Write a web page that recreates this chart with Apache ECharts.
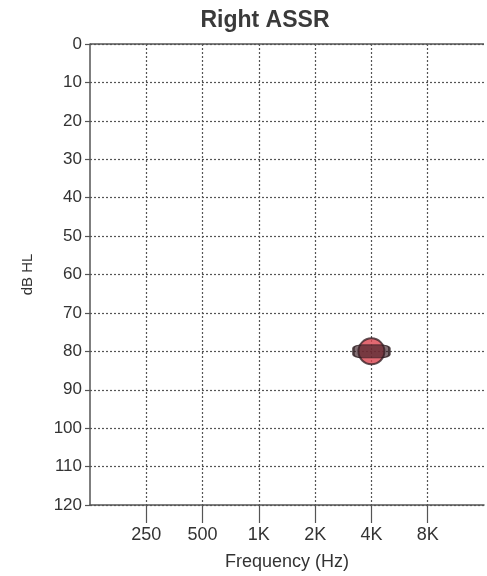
<!DOCTYPE html>
<html>
<head>
<meta charset="utf-8">
<script src="https://cdn.jsdelivr.net/npm/echarts@6/dist/echarts.min.js"></script>
<style>
  html, body { margin: 0; padding: 0; background: #fff; }
  #chart { width: 487px; height: 576px; }
</style>
</head>
<body>
<div id="chart"></div>
<script>
// octave positions; blank entries are the plot edges
const freqLabels = ['', '250', '500', '1K', '2K', '4K', '8K', ''];
const dbTicks = [0, 10, 20, 30, 40, 50, 60, 70, 80, 90, 100, 110, 120];
const assrFreq = ['4K'];
const assrDb = [80];

const chart = echarts.init(document.getElementById('chart'));
const font = 'Liberation Sans, Arial, sans-serif';
const points = assrFreq.map((f, i) => [f, assrDb[i]]);

chart.setOption({
  animation: false,
  backgroundColor: '#fff',
  title: {
    text: 'Right ASSR',
    left: 260,
    textAlign: 'center',
    top: 4,
    textStyle: { fontFamily: font, fontSize: 23, fontWeight: 'bold', color: '#3a3a3a' }
  },
  grid: { left: 90, top: 44, width: 406, height: 464 },
  xAxis: {
    type: 'category',
    position: 'bottom',
    data: freqLabels,
    boundaryGap: false,
    name: 'Frequency (Hz)',
    nameLocation: 'middle',
    nameGap: 48,
    nameTextStyle: { fontFamily: font, fontSize: 18, color: '#333' },
    axisLine: { onZero: false, lineStyle: { color: '#555', width: 1.5 } },
    axisTick: {
      length: 18,
      interval: (i, v) => v !== '',
      lineStyle: { color: '#555', width: 1.2 }
    },
    axisLabel: {
      margin: 21,
      interval: 0,
      fontFamily: font, fontSize: 18, color: '#333'
    },
    splitLine: {
      show: true,
      interval: (i, v) => v !== '',
      lineStyle: { color: '#555', type: [2, 2], width: 1.2 }
    }
  },
  yAxis: {
    type: 'value',
    inverse: true,
    min: dbTicks[0],
    max: dbTicks[dbTicks.length - 1],
    interval: 10,
    name: 'dB HL',
    nameLocation: 'middle',
    nameGap: 55,
    nameRotate: 90,
    nameTextStyle: { fontFamily: font, fontSize: 15, color: '#333' },
    axisLine: { show: true, onZero: false, lineStyle: { color: '#555', width: 1.5 } },
    axisTick: { show: true, length: 5, lineStyle: { color: '#555', width: 1.2 } },
    axisLabel: { margin: 8, fontFamily: font, fontSize: 17, color: '#333' },
    splitLine: {
      show: true,
      lineStyle: { color: '#555', type: [2, 2], width: 1.2 }
    }
  },
  series: [
    {
      // top border drawn solid at 0 dB
      type: 'line',
      data: [],
      markLine: {
        silent: true,
        symbol: 'none',
        label: { show: false },
        lineStyle: { color: '#555', type: 'solid', width: 1.5 },
        data: [{ yAxis: 0 }]
      }
    },
    {
      type: 'scatter',
      data: points,
      symbol: 'circle',
      symbolSize: 26,
      itemStyle: { color: '#d9434f', borderColor: '#3a2328', borderWidth: 2 },
      z: 3
    },
    {
      type: 'scatter',
      data: points,
      symbol: 'roundRect',
      symbolSize: [36, 13],
      itemStyle: { color: 'rgba(60,30,38,0.8)', borderColor: '#2a1a1e', borderWidth: 1.5 },
      z: 4
    }
  ]
});
</script>
</body>
</html>
